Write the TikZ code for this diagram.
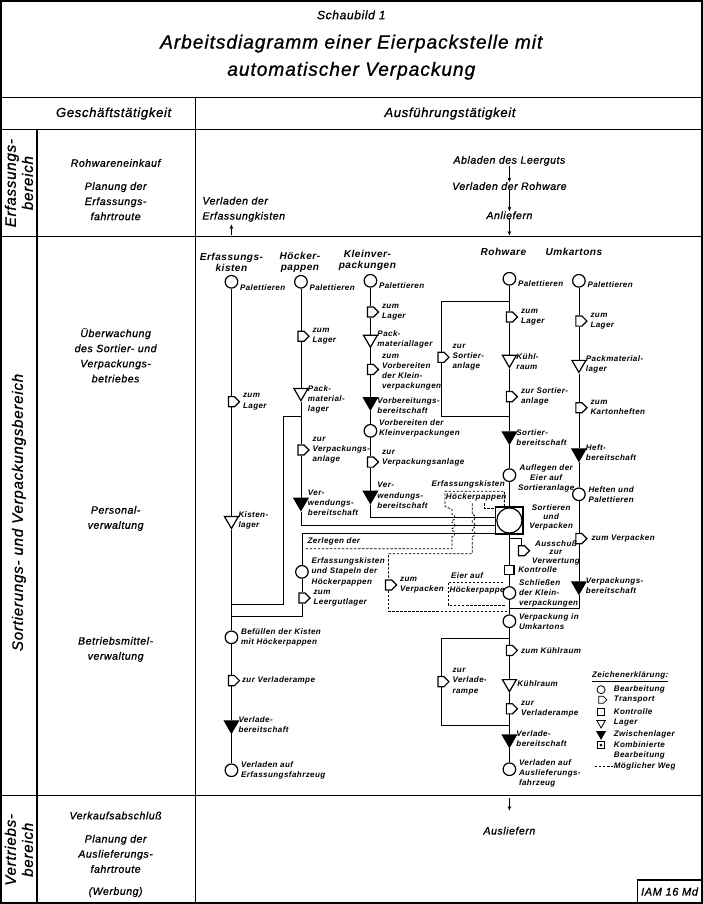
\documentclass[tikz,border=0pt]{standalone}
\usepackage{fontspec}
\setmainfont{Liberation Sans}[LetterSpace=5]
\newfontfamily\stift{Liberation Sans}[LetterSpace=5, FakeBold=1]
\usetikzlibrary{shapes.geometric, shapes.symbols, arrows.meta, positioning}

\begin{document}
\begin{tikzpicture}[
  x=1pt, y=-1pt,
  rahmen/.style={line width=1.6pt},
  trenn/.style={line width=1.2pt},
  fluss/.style={line width=0.8pt},
  weg/.style={line width=0.75pt, dash pattern=on 2.4pt off 1.6pt},
  pfeil/.style={-{Stealth[length=4.5pt,width=3.6pt]}, line width=0.9pt},
  bearb/.style={circle, draw, line width=1.2pt, minimum size=12.5pt, inner sep=0pt},
  transp/.style={signal, signal to=east, draw, line width=1.2pt, minimum width=11pt, minimum height=10pt, inner sep=0pt},
  kontr/.style={rectangle, draw, line width=1.2pt, minimum size=9pt, inner sep=0pt},
  lager/.style={regular polygon, regular polygon sides=3, shape border rotate=180, draw, line width=1.2pt, minimum size=16pt, inner sep=0pt},
  zwlager/.style={lager, fill=black},
  kombi/.style={rectangle, draw, line width=1.2pt, minimum size=27pt, inner sep=0pt},
  lbl/.style={font=\fontsize{8}{10}\selectfont\bfseries\itshape, align=left, inner sep=0.5pt},
  eng/.style={font=\fontsize{8}{8.6}\selectfont\bfseries\itshape},
  kopf/.style={font=\fontsize{10}{11}\selectfont\bfseries\itshape, align=center, inner sep=0pt},
  txt/.style={font=\stift\fontsize{10.5}{15}\selectfont\itshape, align=center, inner sep=0pt},
  bereich/.style={font=\stift\fontsize{15}{17}\selectfont\itshape, align=center, rotate=90, inner sep=0pt},
]
  % Rahmen und Felder
  \draw[rahmen] (4,4) rectangle (700,900);
  \draw[trenn] (4,100) -- (700,100);
  \draw[trenn] (4,132) -- (700,132);
  \draw[trenn] (4,238) -- (700,238);
  \draw[trenn] (4,793) -- (700,793);
  \draw[trenn] (40,132) -- (40,900);
  \draw[trenn] (197,100) -- (197,900);

  % Titel und Kopfzeile
  \node[font=\stift\fontsize{12}{14}\selectfont\itshape] (nr) at (352,18) {Schaubild 1};
  \node[font=\stift\fontsize{19}{27}\selectfont\itshape, align=center] (titel) at (352,60) {Arbeitsdiagramm einer Eierpackstelle mit\\automatischer Verpackung};
  \node[font=\stift\fontsize{13}{15}\selectfont\itshape] (gesch) at (116,116) {Geschäftstätigkeit};
  \node[font=\stift\fontsize{13}{15}\selectfont\itshape] (ausf) at (450,116) {Ausführungstätigkeit};

  % Bereiche
  \node[bereich] (erf) at (22,185) {Erfassungs-\\bereich};
  \node[bereich] (sort) at (22,512) {Sortierungs- und Verpackungsbereich};
  \node[bereich] (vert) at (22,847) {Vertriebs-\\bereich};

  % Geschaeftstaetigkeit
  \node[txt] (rek) at (118,165) {Rohwareneinkauf};
  \node[txt] (pef) at (118,203) {Planung der\\Erfassungs-\\fahrtroute};
  \node[txt] (ueb) at (118,356) {Überwachung\\des Sortier- und\\Verpackungs-\\betriebes};
  \node[txt] (pers) at (118,518) {Personal-\\verwaltung};
  \node[txt] (bmv) at (118,648) {Betriebsmittel-\\verwaltung};
  \node[txt] (vka) at (118,813) {Verkaufsabschluß};
  \node[txt] (paf) at (118,851) {Planung der\\Auslieferungs-\\fahrtroute};
  \node[txt] (werb) at (118,889) {(Werbung)};

  % Erfassungsbereich
  \node[txt, align=left, anchor=west] (vek) at (204,211) {Verladen der\\Erfassungkisten};
  \node[txt] (abl) at (509,163) {Abladen des Leerguts};
  \node[txt] (vrw) at (509,188) {Verladen der Rohware};
  \node[txt] (anl) at (509,217) {Anliefern};
  \coordinate (anlU) at (509,237);
  \coordinate (ekO) at (233,237);
  \coordinate (ekP) at (233,226);
  \draw[pfeil] (abl) -- (vrw);
  \draw[pfeil] (vrw) -- (anl);
  \draw[pfeil] (anl) -- (anlU);
  \draw[pfeil] (ekO) -- (ekP);

  % Spaltenkoepfe
  \node[kopf] (hEK) at (233,264) {Erfassungs-\\kisten};
  \node[kopf] (hHP) at (301,264) {Höcker-\\pappen};
  \node[kopf] (hKV) at (368,262) {Kleinver-\\packungen};
  \node[kopf] (hRW) at (503,253) {Rohware};
  \node[kopf] (hUK) at (573,253) {Umkartons};

  % Erfassungskisten
  \node[bearb] (ek1) at (233,283) {};
  \node[transp] (ek2) at (233,402) {};
  \node[lager] (ek3) at (233,520) {};
  \node[bearb] (ek4) at (233,636) {};
  \node[transp] (ek5) at (233,679) {};
  \node[zwlager] (ek6) at (233,723) {};
  \node[bearb] (ek7) at (233,768) {};
  \draw[fluss] (ek1) -- (ek2) -- (ek3) -- (ek4) -- (ek5) -- (ek6) -- (ek7);
  \node[lbl, right=1pt of ek1, yshift=-6pt] (ek1l) {Palettieren};
  \node[lbl, right=2pt of ek2] (ek2l) {zum\\Lager};
  \node[lbl, right=1pt of ek3] (ek3l) {Kisten-\\lager};
  \node[lbl, right=2pt of ek4] (ek4l) {Befüllen der Kisten\\mit Höckerpappen};
  \node[lbl, right=1pt of ek5] (ek5l) {zur Verladerampe};
  \node[lbl, right=1pt of ek6] (ek6l) {Verlade-\\bereitschaft};
  \node[lbl, right=2pt of ek7] (ek7l) {Verladen auf\\Erfassungsfahrzeug};

  % Hoeckerpappen
  \node[bearb] (hp1) at (302,283) {};
  \node[transp] (hp2) at (302,337) {};
  \node[lager] (hp3) at (302,393) {};
  \node[transp] (hp4) at (302,450) {};
  \node[zwlager] (hp5) at (302,502) {};
  \draw[fluss] (hp1) -- (hp2) -- (hp3) -- (hp4) -- (hp5);
  \node[lbl, right=1pt of hp1, yshift=-6pt] (hp1l) {Palettieren};
  \node[lbl, right=2pt of hp2] (hp2l) {zum\\Lager};
  \node[lbl, right=1pt of hp3, yshift=-7pt] (hp3l) {Pack-\\material-\\lager};
  \node[lbl, right=2pt of hp4] (hp4l) {zur\\Verpackungs-\\anlage};
  \node[lbl, right=1pt of hp5] (hp5l) {Ver-\\wendungs-\\bereitschaft};
  \coordinate (hpA) at (302,417);
  \coordinate (hpB) at (285,603);
  \coordinate (ekA) at (233,603);
  \draw[fluss] (hpA) -| (hpB) -- (ekA);

  % Kleinverpackungen
  \node[bearb] (kv1) at (371,282) {};
  \node[transp] (kv2) at (371,313) {};
  \node[lager] (kv3) at (371,340) {};
  \node[transp] (kv4) at (371,370) {};
  \node[zwlager] (kv5) at (371,402) {};
  \node[bearb] (kv6) at (371,431) {};
  \node[transp] (kv7) at (371,462) {};
  \node[zwlager] (kv8) at (371,495) {};
  \draw[fluss] (kv1) -- (kv2) -- (kv3) -- (kv4) -- (kv5) -- (kv6) -- (kv7) -- (kv8);
  \node[lbl, right=1pt of kv1, yshift=-5pt] (kv1l) {Palettieren};
  \node[lbl, right=2pt of kv2] (kv2l) {zum\\Lager};
  \node[lbl, right=1pt of kv3] (kv3l) {Pack-\\materiallager};
  \node[lbl, right=2pt of kv4, yshift=-3pt] (kv4l) {zum\\Vorbereiten\\der Klein-\\verpackungen};
  \node[lbl, right=1pt of kv5, yshift=-4pt] (kv5l) {Vorbereitungs-\\bereitschaft};
  \node[lbl, right=1pt of kv6, yshift=2pt] (kv6l) {Vorbereiten der\\Kleinverpackungen};
  \node[lbl, right=2pt of kv7, yshift=4pt] (kv7l) {zur\\Verpackungsanlage};
  \node[lbl, right=1pt of kv8] (kv8l) {Ver-\\wendungs-\\bereitschaft};

  % Rohware
  \node[bearb] (rw1) at (509,280) {};
  \node[transp] (rw2) at (509,318) {};
  \node[lager] (rw3) at (509,360) {};
  \node[transp] (rw4) at (509,397) {};
  \node[zwlager] (rw5) at (509,436) {};
  \node[bearb] (rw6) at (509,475) {};
  \node[kombi] (svq) at (509,520) {};
  \node[bearb, minimum size=25pt] (sv) at (509,520) {};
  \node[transp] (rw7) at (521,550) {};
  \node[kontr] (rw8) at (509,569) {};
  \node[bearb] (rw9) at (509,592) {};
  \node[bearb] (rw10) at (509,620) {};
  \node[transp] (rw11) at (509,649) {};
  \node[lager] (rw12) at (509,682) {};
  \node[transp] (rw13) at (509,707) {};
  \node[zwlager] (rw14) at (509,737) {};
  \node[bearb] (rw15) at (509,767) {};
  \draw[fluss] (rw1) -- (rw2) -- (rw3) -- (rw4) -- (rw5) -- (rw6) -- (svq);
  \draw[fluss] (svq) -- (rw8) -- (rw9) -- (rw10) -- (rw11) -- (rw12) -- (rw13) -- (rw14) -- (rw15);
  \node[lbl, right=1pt of rw1, yshift=-5pt] (rw1l) {Palettieren};
  \node[lbl, right=2pt of rw2] (rw2l) {zum\\Lager};
  \node[lbl, right=1pt of rw3, yshift=-2pt] (rw3l) {Kühl-\\raum};
  \node[lbl, right=2pt of rw4] (rw4l) {zur Sortier-\\anlage};
  \node[lbl, right=1pt of rw5, yshift=-2pt] (rw5l) {Sortier-\\bereitschaft};
  \node[lbl, align=center, right=1pt of rw6, yshift=-3pt] (rw6l) {Auflegen der\\Eier auf\\Sortieranlage};
  \node[lbl, eng, align=center, right=5pt of svq, yshift=3pt] (svl) {Sortieren\\und\\Verpacken};
  \node[lbl, eng, align=center, right=1pt of rw7, yshift=-2pt] (rw7l) {Ausschuß\\zur\\Verwertung};
  \node[lbl, right=3pt of rw8] (rw8l) {Kontrolle};
  \node[lbl, right=2pt of rw9] (rw9l) {Schließen\\der Klein-\\verpackungen};
  \node[lbl, right=2pt of rw10] (rw10l) {Verpackung in\\Umkartons};
  \node[lbl, right=2pt of rw11] (rw11l) {zum Kühlraum};
  \node[lbl, right=2pt of rw12] (rw12l) {Kühlraum};
  \node[lbl, right=2pt of rw13] (rw13l) {zur\\Verladerampe};
  \node[lbl, right=1pt of rw14] (rw14l) {Verlade-\\bereitschaft};
  \node[lbl, right=2pt of rw15, yshift=-4pt] (rw15l) {Verladen auf\\Auslieferungs-\\fahrzeug};
  \coordinate (rwA) at (509,538);
  \draw[fluss] (rwA) -| (rw7);

  % Schleifen an der Rohware
  \node[transp] (ls) at (441,358) {};
  \node[lbl, right=2pt of ls] (lsl) {zur\\Sortier-\\anlage};
  \coordinate (rwB) at (509,302);
  \coordinate (rwC) at (509,417);
  \draw[fluss] (rwB) -| (ls) |- (rwC);
  \node[transp] (lv) at (441,680) {};
  \node[lbl, right=2pt of lv] (lvl) {zur\\Verlade-\\rampe};
  \coordinate (rwD) at (509,637);
  \coordinate (rwE) at (509,723);
  \draw[fluss] (rwD) -| (lv) |- (rwE);

  % Umkartons
  \node[bearb] (uk1) at (578,282) {};
  \node[transp] (uk2) at (578,322) {};
  \node[lager] (uk3) at (578,365) {};
  \node[transp] (uk4) at (578,408) {};
  \node[zwlager] (uk5) at (578,453) {};
  \node[bearb] (uk6) at (578,494) {};
  \node[transp] (uk7) at (578,538) {};
  \node[zwlager] (uk8) at (578,585) {};
  \draw[fluss] (uk1) -- (uk2) -- (uk3) -- (uk4) -- (uk5) -- (uk6) -- (uk7) -- (uk8);
  \node[lbl, right=1pt of uk1, yshift=-4pt] (uk1l) {Palettieren};
  \node[lbl, right=2pt of uk2] (uk2l) {zum\\Lager};
  \node[lbl, right=1pt of uk3] (uk3l) {Packmaterial-\\lager};
  \node[lbl, right=2pt of uk4] (uk4l) {zum\\Kartonheften};
  \node[lbl, right=1pt of uk5] (uk5l) {Heft-\\bereitschaft};
  \node[lbl, right=2pt of uk6] (uk6l) {Heften und\\Palettieren};
  \node[lbl, right=3pt of uk7] (uk7l) {zum Verpacken};
  \node[lbl, right=1pt of uk8] (uk8l) {Verpackungs-\\bereitschaft};
  \coordinate (ukJ) at (509,607);
  \draw[fluss] (uk8) |- (ukJ);

  % Zufuehrung zum Sortieren und Verpacken
  \draw[fluss] (kv8) |- ([yshift=3pt]svq.west);
  \draw[fluss] (hp5) |- ([yshift=-5pt]svq.west);
  \node[bearb] (hz1) at (303,571) {};
  \node[transp] (hz2) at (303,597) {};
  \coordinate (ekB) at (233,615);
  \draw[fluss] ([yshift=-13pt]svq.west) -| (hz1);
  \draw[fluss] (hz1) -- (hz2) |- (ekB);
  \node[lbl, anchor=west] (zer) at (308,541) {Zerlegen der};
  \node[lbl, right=2pt of hz1] (hz1l) {Erfassungskisten\\und Stapeln der\\Höckerpappen};
  \node[lbl, right=2pt of hz2] (hz2l) {zum\\Leergutlager};

  % moegliche Wege
  \node[lbl] (ekk) at (468,484) {Erfassungskisten};
  \node[lbl] (hpk) at (476,497) {Höckerpappen};
  \coordinate (wE1) at (445,491);
  \coordinate (wE2) at (452,548);
  \coordinate (wE3) at (305,548);
  \draw[weg] (504,506) -- (504,491) -- (wE1) -- (445,506) -- (452,509) -- (452,514)
    arc[start angle=-90, end angle=90, radius=3] -- (452,522)
    arc[start angle=-90, end angle=90, radius=3] -- (452,530)
    arc[start angle=-90, end angle=90, radius=3] -- (wE2) -- (wE3);
  \draw[weg] (484,503) |- ([yshift=12pt]svq.west);
  \node[transp] (zv) at (389,584) {};
  \node[lbl, right=2pt of zv] (zvl) {zum\\Verpacken};
  \coordinate (wH) at (509,610);
  \draw[weg] (472,503) -- (472,514)
    arc[start angle=-90, end angle=90, radius=3] -- (472,522)
    arc[start angle=-90, end angle=90, radius=3] -- (472,530)
    arc[start angle=-90, end angle=90, radius=3] -- (472,553) -| (zv);
  \draw[weg] (zv) |- (wH);
  \node[lbl] (eah1) at (467,575) {Eier auf};
  \node[lbl] (eah2) at (477,589) {Höckerpappe};
  \draw[weg] (503,581) -- (448,581) -- (448,604) -- (505,604);

  % Vertrieb
  \node[txt] (ausl) at (509,828) {Ausliefern};
  \coordinate (auslO) at (509,796);
  \coordinate (auslP) at (509,808);
  \draw[pfeil] (auslO) -- (auslP);
  \node[draw, line width=1.4pt, font=\stift\fontsize{11}{13}\selectfont\itshape, minimum width=64pt, minimum height=23pt, inner sep=0pt] (iam) at (668,888.5) {IAM 16 Md};

  % Zeichenerklaerung
  \node[lbl] (zk) at (629,675) {\underline{Zeichenerklärung:}};
  \node[bearb, minimum size=8pt, line width=0.8pt] (z1) at (600,688) {};
  \node[transp, minimum width=8pt, minimum height=7pt, line width=0.8pt] (z2) at (600,698) {};
  \node[kontr, minimum size=7pt, line width=0.8pt] (z3) at (600,710) {};
  \node[lager, minimum size=10pt, line width=0.8pt] (z4) at (600,721) {};
  \node[zwlager, minimum size=10pt, line width=0.8pt] (z5) at (600,732) {};
  \node[kontr, minimum size=7pt, line width=1.4pt] (z6) at (600,743) {};
  \node[circle, fill, inner sep=0pt, minimum size=3pt] (z6k) at (600,743) {};
  \node[lbl, anchor=west] (z1l) at (612,688) {Bearbeitung};
  \node[lbl, anchor=west] (z2l) at (612,698) {Transport};
  \node[lbl, anchor=west] (z3l) at (612,710) {Kontrolle};
  \node[lbl, anchor=west] (z4l) at (612,721) {Lager};
  \node[lbl, anchor=west] (z5l) at (612,732) {Zwischenlager};
  \node[lbl, anchor=west] (z6l) at (612,748) {Kombinierte\\Bearbeitung};
  \node[lbl, anchor=west] (z7l) at (612,764) {Möglicher Weg};
  \coordinate (z7a) at (594,764);
  \draw[weg] (z7a) -- (z7l);
\end{tikzpicture}
\end{document}
